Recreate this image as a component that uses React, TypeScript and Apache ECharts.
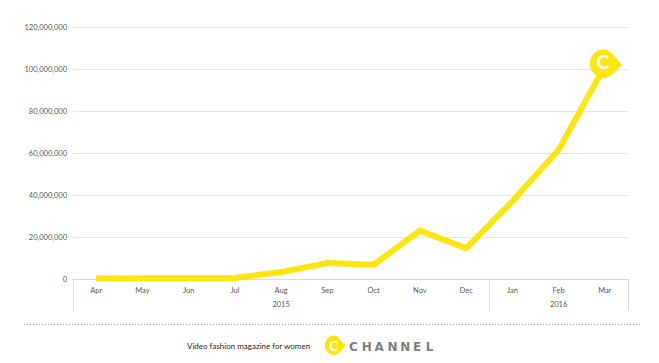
import React, { useEffect, useRef } from 'react';
import * as echarts from 'echarts';

const months = ['Apr', 'May', 'Jun', 'Jul', 'Aug', 'Sep', 'Oct', 'Nov', 'Dec', 'Jan', 'Feb', 'Mar'];
const years = ['2015', '2016'];
const yearSpans = [9, 3];
const views = [200000, 400000, 400000, 500000, 3300000, 7600000, 6800000, 23000000, 14600000, 37000000, 61500000, 101500000];
const yMax = 120000000;
const yInterval = 20000000;
const tagline = 'Video fashion magazine for women';
const brand = ['C', 'H', 'A', 'N', 'N', 'E', 'L'];

const YELLOW = '#FDE512';
const FONT = 'Lato, "Liberation Sans", sans-serif';
const BUBBLE_D = 'M13,0 C5.8,0 0,6.3 0,14 C0,21.7 5.8,28 13,28 C19,28 25,20 30,15 C25,9 19,0 13,0 Z';

let registered = false;

export default function App() {
  const ref = useRef<HTMLDivElement>(null);
  useEffect(() => {
    document.body.style.margin = '0';
    if (!registered) {
      echarts.graphic.registerShape('bubble', echarts.graphic.extendPath(BUBBLE_D, {}));
      registered = true;
    }
    const chart = echarts.init(ref.current!, null, { renderer: 'svg' });
    const lastIdx = views.length - 1;
    chart.setOption({
      animation: false,
      grid: { left: 73, right: 31, top: 27, bottom: 84 },
      xAxis: {
        type: 'category',
        data: months,
        boundaryGap: true,
        axisLine: { show: true, lineStyle: { color: '#d9d9d9', width: 1 } },
        axisTick: { show: false },
        axisLabel: { color: '#595959', fontSize: 7.5, fontFamily: FONT, margin: 7, interval: 0 },
      },
      yAxis: {
        type: 'value',
        min: 0,
        max: yMax,
        interval: yInterval,
        axisLine: { show: false },
        axisTick: { show: false },
        splitLine: { lineStyle: { color: '#e6e6e6', width: 1 } },
        axisLabel: {
          color: '#595959',
          fontSize: 7.5,
          fontFamily: FONT,
          margin: 6,
          formatter: (v: number) => v.toLocaleString('en-US'),
        },
      },
      series: [
        {
          type: 'line',
          data: views.map((v, i) =>
            i === lastIdx
              ? {
                  value: v,
                  symbol: 'path://' + BUBBLE_D,
                  symbolSize: [32, 29],
                  symbolOffset: [1, -2],
                  itemStyle: { color: YELLOW },
                  label: {
                    show: true,
                    position: 'inside',
                    formatter: 'C',
                    color: '#ffffff',
                    fontSize: 19,
                    fontWeight: 'bold',
                    fontFamily: FONT,
                    offset: [-3, -2],
                  },
                }
              : { value: v, symbol: 'none' }
          ),
          showSymbol: true,
          lineStyle: { color: YELLOW, width: 6, join: 'miter' },
          itemStyle: { color: YELLOW },
          z: 3,
        },
      ],
    });

    const c0 = chart.convertToPixel({ xAxisIndex: 0 }, months[0]) as number;
    const c1 = chart.convertToPixel({ xAxisIndex: 0 }, months[1]) as number;
    const band = c1 - c0;
    const left = c0 - band / 2;
    const baseY = chart.convertToPixel({ yAxisIndex: 0 }, 0) as number;

    const graphic: any[] = [];
    let start = 0;
    const bounds = [left];
    yearSpans.forEach((span, k) => {
      const x0 = left + start * band;
      const x1 = left + (start + span) * band;
      bounds.push(x1);
      graphic.push({
        type: 'text',
        x: (x0 + x1) / 2,
        y: baseY + 25,
        style: {
          text: years[k],
          fill: '#595959',
          font: `7.5px ${FONT}`,
          textAlign: 'center',
          textVerticalAlign: 'middle',
        },
      });
      start += span;
    });
    bounds.forEach((bx) => {
      graphic.push({
        type: 'line',
        shape: { x1: Math.round(bx) + 0.5, y1: baseY, x2: Math.round(bx) + 0.5, y2: baseY + 31 },
        style: { stroke: '#d9d9d9', lineWidth: 1 },
      });
    });
    graphic.push({
      type: 'line',
      shape: { x1: 24, y1: 324.5, x2: 642, y2: 324.5 },
      style: { stroke: '#9a9a9a', lineWidth: 1, lineDash: [1, 2] },
    });
    graphic.push({
      type: 'text',
      x: 187,
      y: 346,
      style: {
        text: tagline,
        fill: '#262626',
        font: `8px ${FONT}`,
        textAlign: 'left',
        textVerticalAlign: 'middle',
      },
    });
    graphic.push({
      type: 'bubble',
      x: 325,
      y: 335.5,
      scaleX: 0.68,
      scaleY: 0.7,
      style: { fill: YELLOW },
    });
    graphic.push({
      type: 'text',
      x: 333.5,
      y: 345.5,
      style: {
        text: 'C',
        fill: '#ffffff',
        font: `bold 13px ${FONT}`,
        textAlign: 'center',
        textVerticalAlign: 'middle',
      },
    });
    brand.forEach((ch, i) => {
      graphic.push({
        type: 'text',
        x: 349 + i * 12.8,
        y: 346.5,
        style: {
          text: ch,
          fill: '#7f7f7f',
          font: `bold 12px "DejaVu Sans", sans-serif`,
          textAlign: 'left',
          textVerticalAlign: 'middle',
        },
      });
    });
    chart.setOption({ graphic });

    return () => chart.dispose();
  }, []);
  return <div ref={ref} style={{ width: 659, height: 363, position: 'absolute', left: 0, top: 0 }} />;
}
